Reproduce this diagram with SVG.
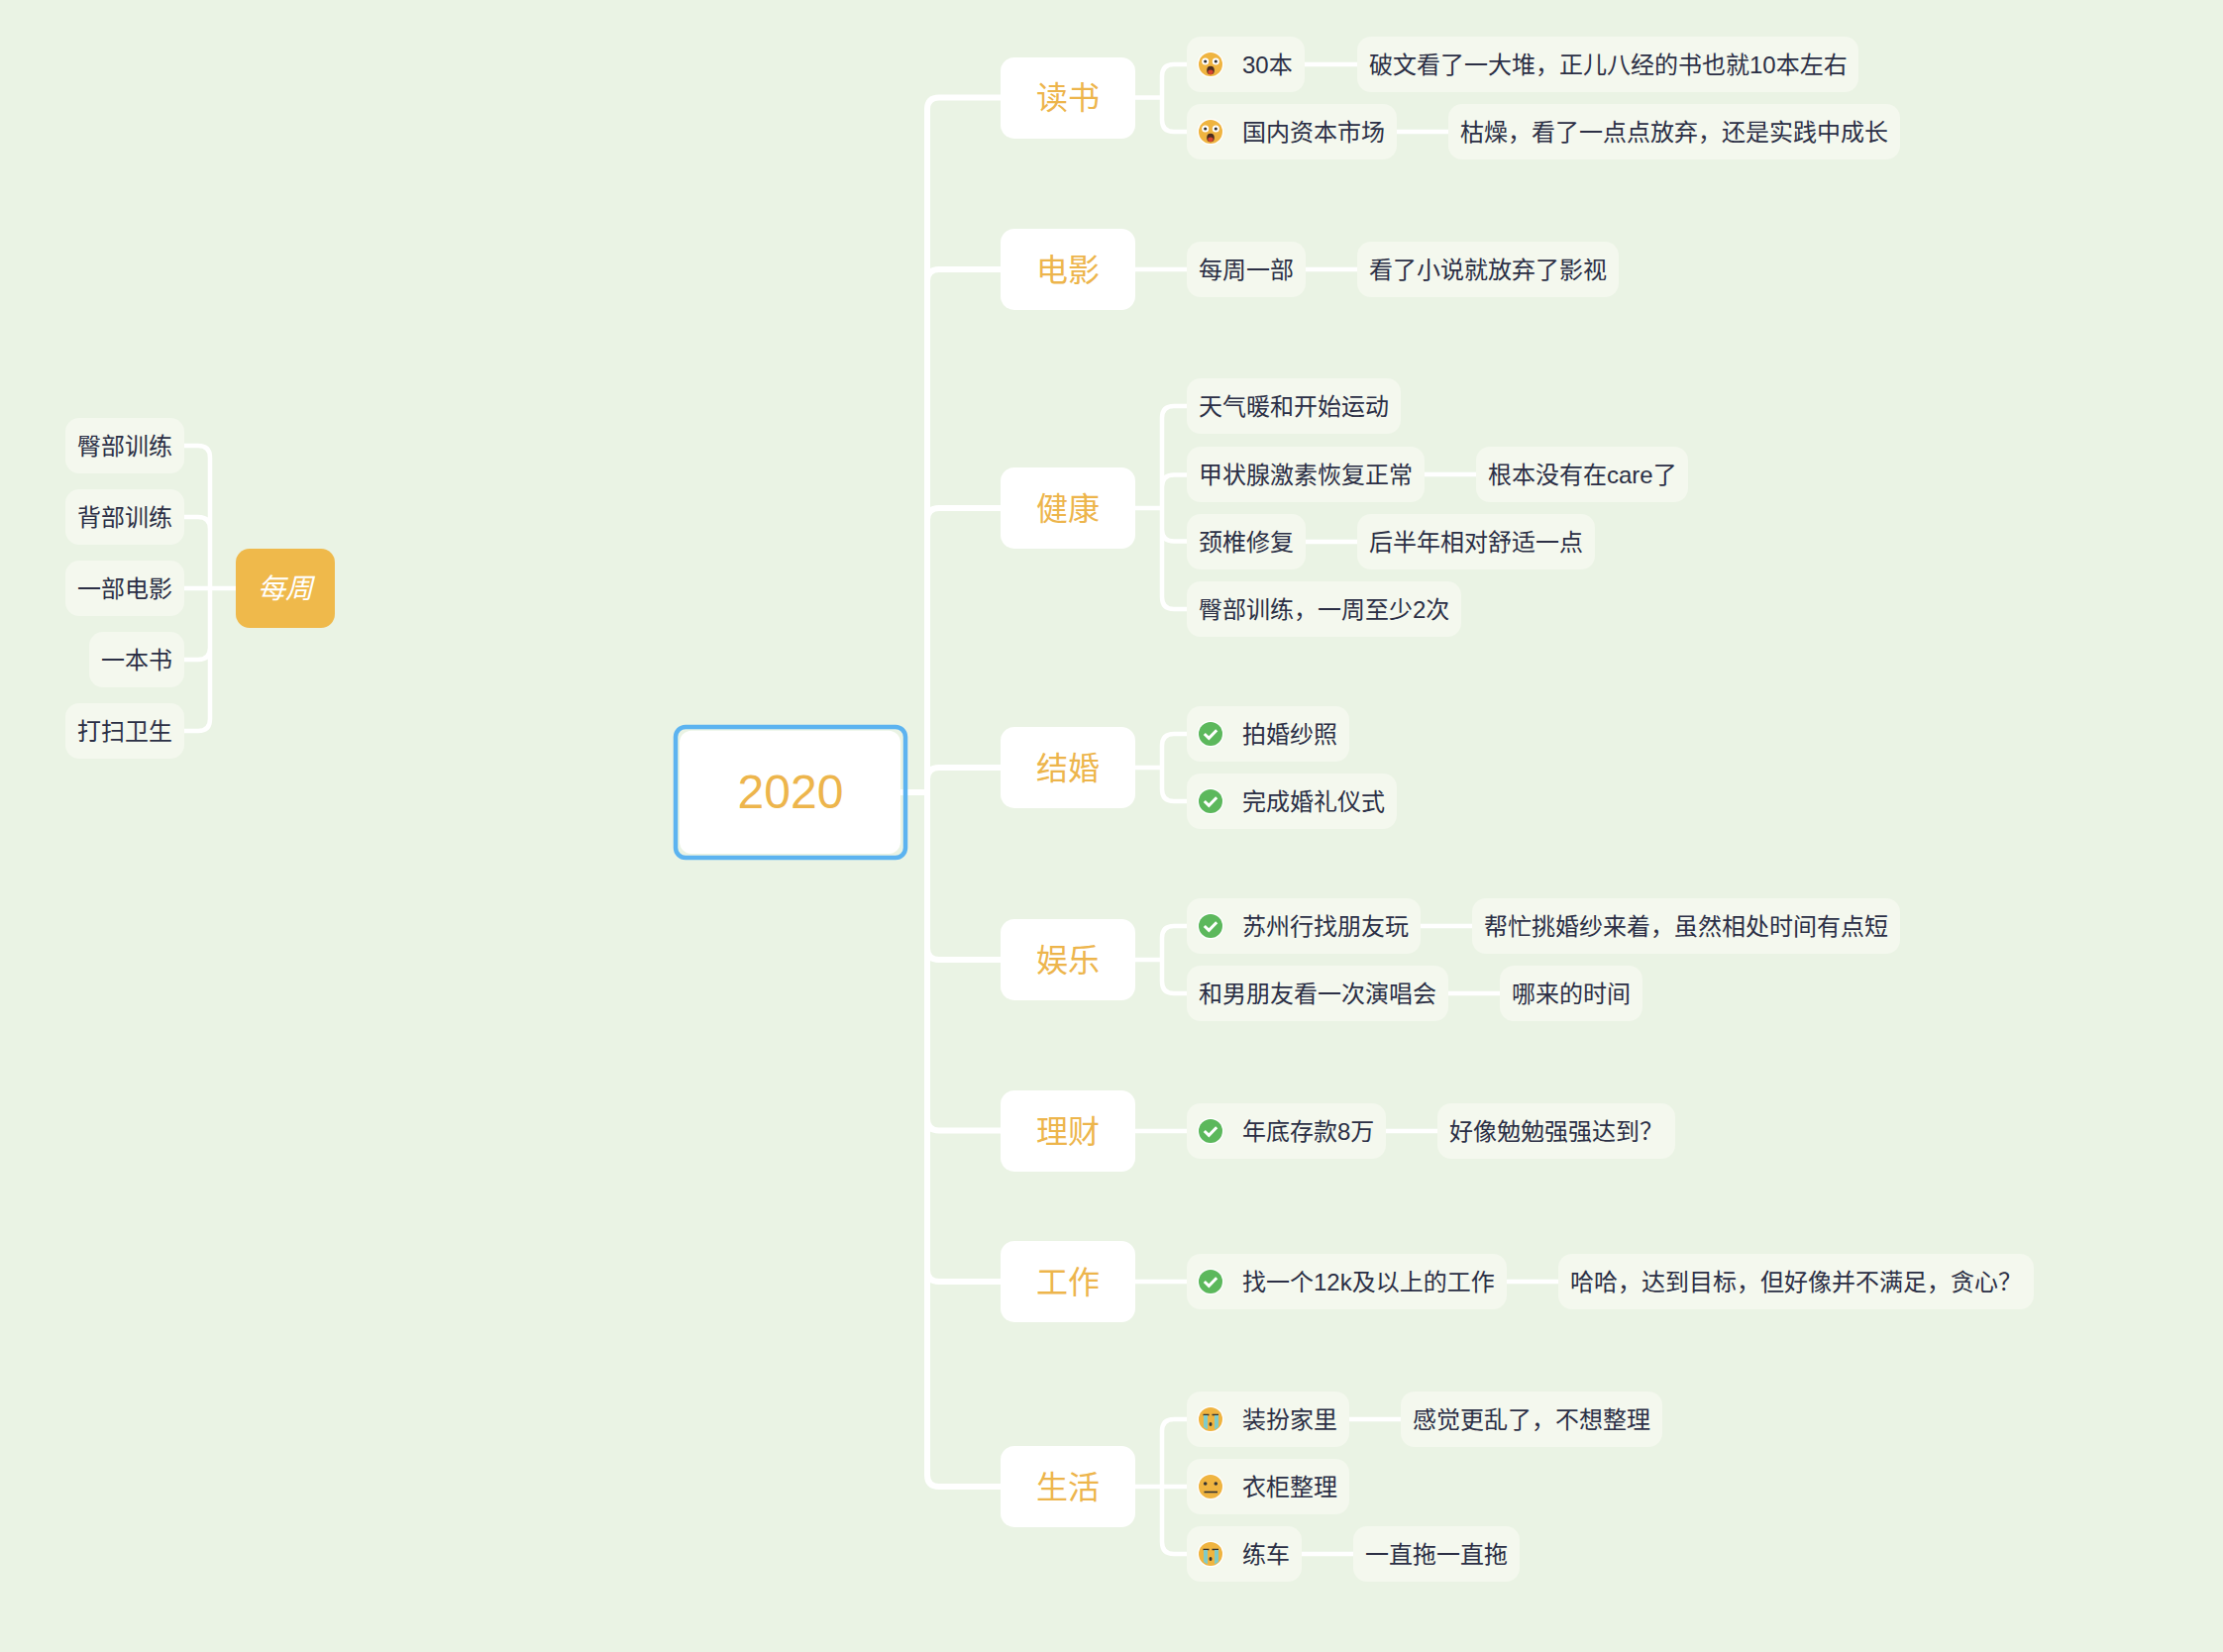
<svg xmlns="http://www.w3.org/2000/svg" width="2244" height="1668" viewBox="0 0 2244 1668">
<style>
text{font-family:"Liberation Sans","Noto Sans CJK SC",sans-serif}
.m{fill:none;stroke:#fff;stroke-width:6}
.c{fill:none;stroke:#fff;stroke-width:4.500}
.l{fill:#f4f8ee}
.b{fill:#fff}
.t{font-size:24px;fill:#2b2f45}
.bt{font-size:32px;fill:#edb54c;text-anchor:middle}
</style>
<defs>
<g id="shock"><circle r="13.300" fill="#fff"/><circle r="12" fill="#efb440"/><circle cx="-5.300" cy="-3" r="3.500" fill="#fff"/><circle cx="5.300" cy="-3" r="3.500" fill="#fff"/><circle cx="-5.300" cy="-3" r="1.600" fill="#333"/><circle cx="5.300" cy="-3" r="1.600" fill="#333"/><ellipse cy="6" rx="3.800" ry="4.300" fill="#4a2c20"/><ellipse cy="7.800" rx="2.700" ry="2.400" fill="#d8452f"/></g>
<g id="cry"><circle r="13.300" fill="#fff"/><circle r="12" fill="#efb440"/><path d="M-7.500 -4.500H-1.500M1.500 -4.500H8" stroke="#333" stroke-width="1.600" fill="none"/><path d="M-7 -4h4V10.500l-4 -2.500zM4 -4h4V8l-4 2.500z" fill="#7fcbc9"/><ellipse cy="5" rx="1.500" ry="2" fill="#333"/></g>
<g id="neutral"><circle r="13.300" fill="#fff"/><circle r="12" fill="#efb440"/><circle cx="-5.300" cy="-3" r="1.800" fill="#333"/><circle cx="5.300" cy="-3" r="1.800" fill="#333"/><path d="M-6.500 5.500H7" stroke="#333" stroke-width="1.600"/></g>
<g id="check"><circle r="13.300" fill="#fff"/><circle r="12" fill="#5cb85c"/><path d="M-6.200 0L-1.700 4.300L6.200 -3.800" fill="none" stroke="#fff" stroke-width="3"/></g>
</defs>
<rect width="2244" height="1668" fill="#eaf3e4"/>
<g id="connectors">
<path class="m" d="M909 800H936M936 800V110.500Q936 98.500 948 98.500H1010M936 800V284Q936 272 948 272H1010M936 800V525Q936 513 948 513H1010M936 800V787Q936 775 948 775H1010M936 800V957Q936 969 948 969H1010M936 800V1129.500Q936 1141.500 948 1141.500H1010M936 800V1282Q936 1294 948 1294H1010M936 800V1489Q936 1501 948 1501H1010"/>
<path class="c" d="M1146 98.500H1173M1173 98.500V77Q1173 65 1185 65H1198M1173 98.500V121Q1173 133 1185 133H1198M1317 65H1370M1410 133H1462"/>
<path class="c" d="M1146 272H1198M1318 272H1370"/>
<path class="c" d="M1146 513H1173M1173 422Q1173 410 1185 410H1198M1173 422V603Q1173 615 1185 615H1198M1173 491.500Q1173 479.500 1185 479.500H1198M1173 534.500Q1173 546.500 1185 546.500H1198M1438 479H1490M1318 547H1370"/>
<path class="c" d="M1146 775H1173M1173 753Q1173 741 1185 741H1198M1173 753V797Q1173 809 1185 809H1198"/>
<path class="c" d="M1146 969H1173M1173 947Q1173 935 1185 935H1198M1173 947V991Q1173 1003 1185 1003H1198M1434 935H1486M1462 1003H1514"/>
<path class="c" d="M1146 1142H1198M1399 1142H1451"/>
<path class="c" d="M1146 1294H1198M1521 1294H1573"/>
<path class="c" d="M1146 1501H1198M1173 1445Q1173 1433 1185 1433H1198M1173 1445V1557Q1173 1569 1185 1569H1198M1362 1433H1414M1314 1569H1366"/>
<path class="c" d="M186 450H200Q212 450 212 462V726Q212 738 200 738H186M186 522H200Q212 522 212 534M186 666H200Q212 666 212 654M186 594H238"/>
</g>
<g id="root"><rect x="686" y="737.700" width="223" height="124.300" rx="12" class="b"/><rect x="682" y="734" width="232" height="132" rx="10" fill="none" stroke="#5cb3f0" stroke-width="4.500"/><text x="798" y="816" font-size="48" fill="#edb54c" text-anchor="middle">2020</text></g>
<g id="weekly"><rect x="238" y="554" width="100" height="80" rx="14" fill="#efb94b"/><text x="288" y="604" font-size="28" font-style="italic" fill="#fff" text-anchor="middle">每周</text></g>
<g id="w1"><rect x="66" y="422" width="120" height="56" rx="14" class="l"/><text x="78" y="458.500" class="t">臀部训练</text></g>
<g id="w2"><rect x="66" y="494" width="120" height="56" rx="14" class="l"/><text x="78" y="530.500" class="t">背部训练</text></g>
<g id="w3"><rect x="66" y="566" width="120" height="56" rx="14" class="l"/><text x="78" y="602.500" class="t">一部电影</text></g>
<g id="w4"><rect x="90" y="638" width="96" height="56" rx="14" class="l"/><text x="102" y="674.500" class="t">一本书</text></g>
<g id="w5"><rect x="66" y="710" width="120" height="56" rx="14" class="l"/><text x="78" y="746.500" class="t">打扫卫生</text></g>
<g id="b1"><rect x="1010" y="58" width="136" height="82" rx="14" class="b"/><text x="1078" y="110" class="bt">读书</text></g>
<g id="b2"><rect x="1010" y="231" width="136" height="82" rx="14" class="b"/><text x="1078" y="283.500" class="bt">电影</text></g>
<g id="b3"><rect x="1010" y="472" width="136" height="82" rx="14" class="b"/><text x="1078" y="524.500" class="bt">健康</text></g>
<g id="b4"><rect x="1010" y="734" width="136" height="82" rx="14" class="b"/><text x="1078" y="786.500" class="bt">结婚</text></g>
<g id="b5"><rect x="1010" y="928" width="136" height="82" rx="14" class="b"/><text x="1078" y="980.500" class="bt">娱乐</text></g>
<g id="b6"><rect x="1010" y="1101" width="136" height="82" rx="14" class="b"/><text x="1078" y="1153.500" class="bt">理财</text></g>
<g id="b7"><rect x="1010" y="1253" width="136" height="82" rx="14" class="b"/><text x="1078" y="1305.500" class="bt">工作</text></g>
<g id="b8"><rect x="1010" y="1460" width="136" height="82" rx="14" class="b"/><text x="1078" y="1512.500" class="bt">生活</text></g>
<g id="n1"><rect x="1198" y="37" width="119" height="56" rx="14" class="l"/><use href="#shock" x="1222" y="65"/><text x="1254" y="73.500" class="t">30本</text></g>
<g id="n2"><rect x="1370" y="37" width="506" height="56" rx="14" class="l"/><text x="1382" y="73.500" class="t">破文看了一大堆，正儿八经的书也就10本左右</text></g>
<g id="n3"><rect x="1198" y="105" width="212" height="56" rx="14" class="l"/><use href="#shock" x="1222" y="133"/><text x="1254" y="141.500" class="t">国内资本市场</text></g>
<g id="n4"><rect x="1462" y="105" width="456" height="56" rx="14" class="l"/><text x="1474" y="141.500" class="t">枯燥，看了一点点放弃，还是实践中成长</text></g>
<g id="n5"><rect x="1198" y="244" width="120" height="56" rx="14" class="l"/><text x="1210" y="280.500" class="t">每周一部</text></g>
<g id="n6"><rect x="1370" y="244" width="264" height="56" rx="14" class="l"/><text x="1382" y="280.500" class="t">看了小说就放弃了影视</text></g>
<g id="n7"><rect x="1198" y="382" width="216" height="56" rx="14" class="l"/><text x="1210" y="418.500" class="t">天气暖和开始运动</text></g>
<g id="n8"><rect x="1198" y="451" width="240" height="56" rx="14" class="l"/><text x="1210" y="487.500" class="t">甲状腺激素恢复正常</text></g>
<g id="n9"><rect x="1490" y="451" width="214" height="56" rx="14" class="l"/><text x="1502" y="487.500" class="t">根本没有在care了</text></g>
<g id="n10"><rect x="1198" y="519" width="120" height="56" rx="14" class="l"/><text x="1210" y="555.500" class="t">颈椎修复</text></g>
<g id="n11"><rect x="1370" y="519" width="240" height="56" rx="14" class="l"/><text x="1382" y="555.500" class="t">后半年相对舒适一点</text></g>
<g id="n12"><rect x="1198" y="587" width="277" height="56" rx="14" class="l"/><text x="1210" y="623.500" class="t">臀部训练，一周至少2次</text></g>
<g id="n13"><rect x="1198" y="713" width="164" height="56" rx="14" class="l"/><use href="#check" x="1222" y="741"/><text x="1254" y="749.500" class="t">拍婚纱照</text></g>
<g id="n14"><rect x="1198" y="781" width="212" height="56" rx="14" class="l"/><use href="#check" x="1222" y="809"/><text x="1254" y="817.500" class="t">完成婚礼仪式</text></g>
<g id="n15"><rect x="1198" y="907" width="236" height="56" rx="14" class="l"/><use href="#check" x="1222" y="935"/><text x="1254" y="943.500" class="t">苏州行找朋友玩</text></g>
<g id="n16"><rect x="1486" y="907" width="432" height="56" rx="14" class="l"/><text x="1498" y="943.500" class="t">帮忙挑婚纱来着，虽然相处时间有点短</text></g>
<g id="n17"><rect x="1198" y="975" width="264" height="56" rx="14" class="l"/><text x="1210" y="1011.500" class="t">和男朋友看一次演唱会</text></g>
<g id="n18"><rect x="1514" y="975" width="144" height="56" rx="14" class="l"/><text x="1526" y="1011.500" class="t">哪来的时间</text></g>
<g id="n19"><rect x="1198" y="1114" width="201" height="56" rx="14" class="l"/><use href="#check" x="1222" y="1142"/><text x="1254" y="1150.500" class="t">年底存款8万</text></g>
<g id="n20"><rect x="1451" y="1114" width="240" height="56" rx="14" class="l"/><text x="1463" y="1150.500" class="t">好像勉勉强强达到？</text></g>
<g id="n21"><rect x="1198" y="1266" width="323" height="56" rx="14" class="l"/><use href="#check" x="1222" y="1294"/><text x="1254" y="1302.500" class="t">找一个12k及以上的工作</text></g>
<g id="n22"><rect x="1573" y="1266" width="480" height="56" rx="14" class="l"/><text x="1585" y="1302.500" class="t">哈哈，达到目标，但好像并不满足，贪心？</text></g>
<g id="n23"><rect x="1198" y="1405" width="164" height="56" rx="14" class="l"/><use href="#cry" x="1222" y="1433"/><text x="1254" y="1441.500" class="t">装扮家里</text></g>
<g id="n24"><rect x="1414" y="1405" width="264" height="56" rx="14" class="l"/><text x="1426" y="1441.500" class="t">感觉更乱了，不想整理</text></g>
<g id="n25"><rect x="1198" y="1473" width="164" height="56" rx="14" class="l"/><use href="#neutral" x="1222" y="1501"/><text x="1254" y="1509.500" class="t">衣柜整理</text></g>
<g id="n26"><rect x="1198" y="1541" width="116" height="56" rx="14" class="l"/><use href="#cry" x="1222" y="1569"/><text x="1254" y="1577.500" class="t">练车</text></g>
<g id="n27"><rect x="1366" y="1541" width="168" height="56" rx="14" class="l"/><text x="1378" y="1577.500" class="t">一直拖一直拖</text></g>
</svg>
